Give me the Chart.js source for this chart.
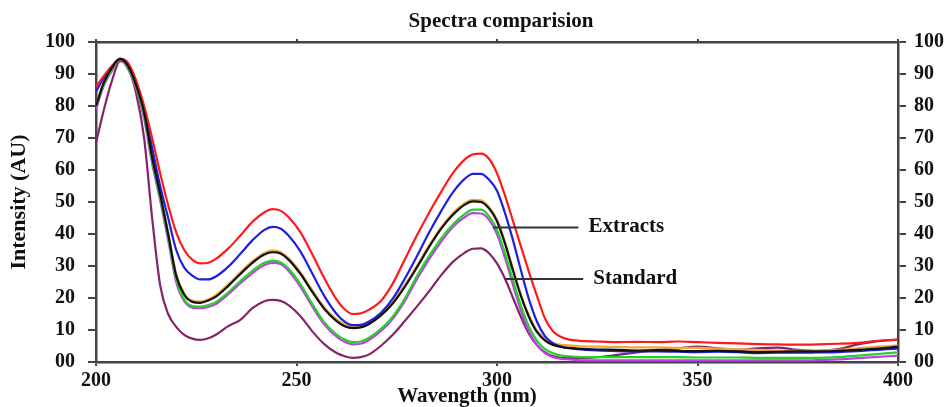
<!DOCTYPE html>
<html>
<head>
<meta charset="utf-8">
<script src="https://cdn.jsdelivr.net/npm/chart.js@4.4.1/dist/chart.umd.min.js"></script>
<style>
  html, body { margin: 0; padding: 0; background: #ffffff; }
  #wrap { width: 944px; height: 407px; position: relative; }
</style>
</head>
<body>
<div id="wrap"><canvas id="c" width="944" height="407"></canvas></div>
<script>
// Wavelength grid (nm)
const wavelengths = [200,202,204,206,208,210,212,214,216,218,220,222,224,226,228,230,233,236,239,242,244,246,248,251,254,257,260,262,264,266,268,271,274,277,280,283,286,289,292,294,296,298,300,302,304,306,308,310,312,314,316,318,320,325,330,335,340,345,350,355,360,365,370,375,380,385,390,395,400];

const redSeries = [86,89.5,92.5,94.7,93.5,88,80,70,59,49,40.5,35,32,30.8,31,32.3,35.5,39.5,43.8,46.8,47.8,47.3,45.3,40.5,33.5,26,19.5,16.5,15,15.2,16.3,19,24.5,32,39.5,46.5,53,59,63.3,64.9,65.1,63.5,59,52,44,36,28,20.5,13.5,9.5,7.8,7,6.7,6.4,6.2,6.3,6.2,6.4,6.2,6,5.8,5.6,5.5,5.4,5.5,5.7,6,6.6,7];
const blueSeries = [84.5,89,92.5,94.7,93,87.5,79,67,55,45,35,29.5,27,25.8,25.8,26.8,29.8,33.8,38,41.3,42.2,41.7,39.5,34.5,27.5,20.5,15,12.6,11.5,11.6,12.6,15.3,19.8,26,33,40.3,47,53,57.3,58.8,58.8,57,53.5,46.5,38,28.5,19.5,12.5,8,5.8,4.8,4.3,4,3.6,3.4,3.3,3.3,3.2,3.1,3.2,3.1,2.8,2.9,2.9,3,3.1,3.4,3.8,4.2];
const blackSeries = [80,87.5,92,94.7,92.5,86.5,78,64,52.5,40,27,21,18.8,18.5,19.2,20.5,23.8,27.5,31,33.6,34.3,33.9,32,27.5,21.8,16.5,12.8,11.2,10.6,10.8,11.8,14.5,18.3,23.5,29.5,35.8,41.5,46,49.2,50.2,50,48,44,37,28.5,20.5,14,9.3,6.7,5.3,4.7,4.4,4.2,3.9,3.8,3.6,3.7,3.5,3.4,3.5,3.3,3.1,3.2,3.3,3.3,3.5,3.8,4.2,4.8];
const orangeSeries = [80,87.5,92,94.7,92.7,86.8,78.5,64.5,53,40.5,27.5,21.5,19.2,18.9,19.6,21,24.3,28,31.5,34.1,34.8,34.4,32.5,28,22.3,17,13.3,11.7,11.1,11.3,12.3,15,18.8,24,30,36.3,42,46.5,49.7,50.7,50.5,48.5,44.5,37.5,29,21,14.5,9.8,7.2,5.9,5.4,5.2,5,4.8,4.7,4.6,4.6,4.4,4.4,4.2,4,3.8,3.6,3.5,3.6,3.8,4.3,4.8,5.2];
const greenSeries = [80,87,91.5,94.5,92,86,77,63,51.5,39,26,19.5,17.5,17.3,17.8,18.8,21.8,25.3,28.5,31,31.6,31.2,29.2,24.3,18,12.3,8.6,7,6.2,6.4,7.5,10.3,14.2,19.8,26.8,33,38.5,43,46.3,47.6,47.6,45.6,41.3,34,25.5,17.5,11,6.5,4,2.7,2,1.8,1.6,1.5,1.5,1.5,1.5,1.5,1.4,1.4,1.4,1.3,1.3,1.3,1.3,1.5,2,2.5,3];
const violetSeries = [79,86.5,91,94.5,91.5,85.5,76,62,50.5,38,25,19,17,16.8,17.2,18.2,21.2,24.6,27.8,30.3,31,30.6,28.5,23.5,17.2,11.6,7.9,6.3,5.5,5.7,6.8,9.6,13.5,19,25.8,32,37.5,42.2,45.3,46.5,46.4,44.5,40,32.5,24,16,9.5,5.3,2.8,1.5,1,0.8,0.6,0.5,0.5,0.5,0.5,0.5,0.5,0.5,0.5,0.5,0.5,0.5,0.6,0.8,1.2,1.6,2];
const standardSeries = [68.5,79,88,94,92,84,70,45,24,15,11,8.5,7.3,6.9,7.4,8.6,11.2,13.2,16.8,19,19.4,19.1,17.8,14.3,9.5,5.5,2.8,1.8,1.3,1.5,2.3,5,8.5,12.8,17.3,22,27,31.3,34.2,35.4,35.5,34,30.8,26,20,14,8.8,5.2,3,1.8,1.3,1.2,1.2,1.5,2.2,3,3.8,4.2,4.8,4.3,3.8,4.3,4.5,3.8,3.5,4,5.5,6.5,7];

const xTicks = [200,250,300,350,400];
const yTicks = [0,10,20,30,40,50,60,70,80,90,100];
const yTickLabels = ['00','10','20','30','40','50','60','70','80','90','100'];

const chartTitle = 'Spectra comparision';
const xTitle = 'Wavength (nm)';
const yTitle = 'Intensity (AU)';
const annotations = [
  { text: 'Extracts', from: 299, to: 320.3, value: 42 },
  { text: 'Standard', from: 301.9, to: 321.5, value: 25.9 }
];

const seriesDefs = [
  { name: 'Black', values: blackSeries, color: '#111111' },
  { name: 'Red', values: redSeries, color: '#ff1a1a' },
  { name: 'Blue', values: blueSeries, color: '#1f1fe0' },
  { name: 'Green', values: greenSeries, color: '#22d422' },
  { name: 'Orange', values: orangeSeries, color: '#f0a83a' },
  { name: 'Violet', values: violetSeries, color: '#c33cf0' },
  { name: 'Standard', values: standardSeries, color: '#852468' }
];

const FONT = '"Liberation Serif", "Times New Roman", serif';
const AXIS_COLOR = '#444444';

const datasets = seriesDefs.map(s => ({
  label: s.name,
  data: wavelengths.map((w, i) => ({ x: w, y: s.values[i] })),
  borderColor: s.color,
  backgroundColor: s.color,
  borderWidth: 2.2,
  pointRadius: 0,
  fill: false,
  cubicInterpolationMode: 'monotone'
}));

const textPlugin = {
  id: 'textPlugin',
  afterDatasetsDraw(chart) {
    const ctx = chart.ctx;
    const xs = chart.scales.x, ys = chart.scales.y;
    ctx.save();
    ctx.strokeStyle = '#333333';
    ctx.lineWidth = 2;
    ctx.fillStyle = '#111111';
    ctx.font = 'bold 21px ' + FONT;
    ctx.textBaseline = 'middle';
    ctx.textAlign = 'left';
    annotations.forEach(a => {
      const x1 = xs.getPixelForValue(a.from), x2 = xs.getPixelForValue(a.to);
      const y = ys.getPixelForValue(a.value);
      ctx.beginPath(); ctx.moveTo(x1, y); ctx.lineTo(x2, y); ctx.stroke();
      ctx.fillText(a.text, x2 + 10, y - 1);
    });
    // chart title
    ctx.textAlign = 'center';
    ctx.fillText(chartTitle, xs.getPixelForValue(301), 22);
    // x axis title
    ctx.fillText(xTitle, xs.getPixelForValue(292.5), 397);
    ctx.restore();
  }
};

new Chart(document.getElementById('c'), {
  type: 'line',
  data: { datasets },
  plugins: [textPlugin],
  options: {
    responsive: false,
    animation: false,
    layout: { padding: 0 },
    plugins: {
      legend: { display: false },
      tooltip: { enabled: false },
      title: { display: false }
    },
    scales: {
      x: {
        type: 'linear', position: 'bottom', min: 200, max: 400,
        afterFit(s) { s.height = 45; },
        afterBuildTicks(s) { s.ticks = xTicks.map(v => ({ value: v })); },
        grid: { display: true, drawOnChartArea: false, drawTicks: true, tickLength: 4, color: AXIS_COLOR, lineWidth: 2 },
        border: { display: true, color: AXIS_COLOR, width: 2.5 },
        ticks: { color: '#111111', padding: 3, maxRotation: 0, font: { family: FONT, size: 20, weight: 'bold' } }
      },
      xTop: {
        type: 'linear', position: 'top', min: 200, max: 400,
        afterFit(s) { s.height = 42; },
        afterBuildTicks(s) { s.ticks = xTicks.map(v => ({ value: v })); },
        grid: { display: true, drawOnChartArea: false, drawTicks: true, tickLength: 3, color: AXIS_COLOR, lineWidth: 2 },
        border: { display: true, color: AXIS_COLOR, width: 2.5 },
        ticks: { display: false }
      },
      y: {
        type: 'linear', position: 'left', min: 0, max: 100,
        afterFit(s) { s.width = 96; },
        afterBuildTicks(s) { s.ticks = yTicks.map(v => ({ value: v })); },
        grid: { display: true, drawOnChartArea: false, drawTicks: true, tickLength: 8, color: AXIS_COLOR, lineWidth: 2 },
        border: { display: true, color: AXIS_COLOR, width: 2.5 },
        ticks: {
          color: '#111111', padding: 13,
          font: { family: FONT, size: 20, weight: 'bold' },
          callback(v) { const i = yTicks.indexOf(v); return i >= 0 ? yTickLabels[i] : ''; }
        },
        title: { display: true, text: yTitle, color: '#111111', padding: { top: 6, bottom: 0 }, font: { family: FONT, size: 22, weight: 'bold' } }
      },
      yRight: {
        type: 'linear', position: 'right', min: 0, max: 100,
        afterFit(s) { s.width = 46; },
        afterBuildTicks(s) { s.ticks = yTicks.map(v => ({ value: v })); },
        grid: { display: true, drawOnChartArea: false, drawTicks: true, tickLength: 8, color: AXIS_COLOR, lineWidth: 2 },
        border: { display: true, color: AXIS_COLOR, width: 2.5 },
        ticks: {
          color: '#111111', padding: 8,
          font: { family: FONT, size: 20, weight: 'bold' },
          callback(v) { const i = yTicks.indexOf(v); return i >= 0 ? yTickLabels[i] : ''; }
        }
      }
    }
  }
});
</script>
</body>
</html>
